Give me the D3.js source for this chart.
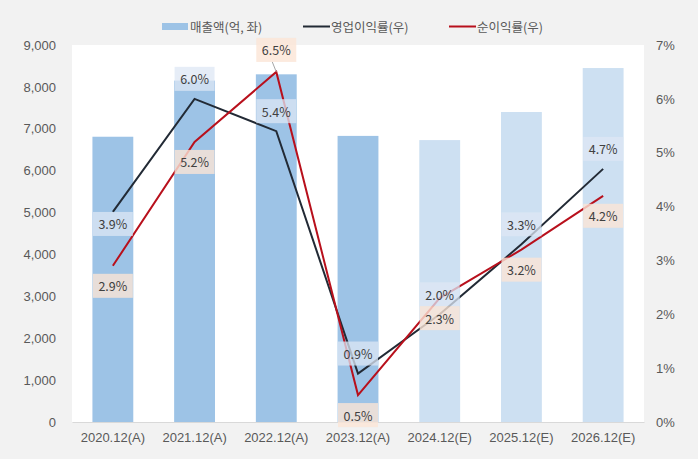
<!DOCTYPE html>
<html>
<head>
<meta charset="utf-8">
<script src="https://cdn.jsdelivr.net/npm/d3@7"></script>
<style>
  html, body { margin: 0; padding: 0; background: #f2f2f2; }
  svg { display: block; font-family: "Noto Sans CJK KR", "Noto Sans", sans-serif; }
</style>
</head>
<body>
<div id="chart"></div>
<script>
const categories = ["2020.12(A)", "2021.12(A)", "2022.12(A)", "2023.12(A)", "2024.12(E)", "2025.12(E)", "2026.12(E)"];
const isEstimate = [false, false, false, false, true, true, true];
const revenue = [6810, 8150, 8300, 6830, 6730, 7400, 8450];
const opMargin = [3.9, 6.0, 5.4, 0.9, 2.0, 3.3, 4.7];
const netMargin = [2.9, 5.2, 6.5, 0.5, 2.3, 3.2, 4.2];
const leftTicks = [0, 1000, 2000, 3000, 4000, 5000, 6000, 7000, 8000, 9000];
const rightTicks = [0, 1, 2, 3, 4, 5, 6, 7];
// label side per point: 1 = above, -1 = below
const opLabelSide = [-1, 1, 1, 1, 1, 1, 1];
const netLabelSide = [-1, -1, 1, -1, -1, -1, -1];

const W = 698, H = 459;
const margin = { top: 45, right: 54, bottom: 37, left: 72 };

const svg = d3.select("#chart").append("svg").attr("width", W).attr("height", H);

svg.append("rect").attr("width", W).attr("height", H).attr("fill", "#f2f2f2");
svg.append("rect")
  .attr("x", margin.left).attr("y", margin.top)
  .attr("width", W - margin.left - margin.right)
  .attr("height", H - margin.top - margin.bottom)
  .attr("fill", "#ffffff");

const x = d3.scaleBand().domain(categories)
  .range([margin.left, W - margin.right]).paddingInner(0.5).paddingOuter(0.25);
const yL = d3.scaleLinear().domain([0, 9000]).range([H - margin.bottom, margin.top]);
const yR = d3.scaleLinear().domain([0, 7]).range([H - margin.bottom, margin.top]);

const textColor = "#595959";
const fmt = d3.format(",");

// left axis
const axL = svg.append("g").attr("transform", `translate(${margin.left},0)`)
  .call(d3.axisLeft(yL).tickValues(leftTicks).tickFormat(fmt).tickSize(0).tickPadding(16));
axL.select(".domain").remove();
axL.selectAll("text").attr("font-size", 13).attr("fill", textColor).style("font-family", "inherit");

// right axis
const axR = svg.append("g").attr("transform", `translate(${W - margin.right},0)`)
  .call(d3.axisRight(yR).tickValues(rightTicks).tickFormat(d => d + "%").tickSize(0).tickPadding(12));
axR.select(".domain").remove();
axR.selectAll("text").attr("font-size", 13).attr("fill", textColor).style("font-family", "inherit");

// bars
svg.append("g").selectAll("rect").data(categories).join("rect")
  .attr("x", d => x(d))
  .attr("y", (d, i) => yL(revenue[i]))
  .attr("width", x.bandwidth())
  .attr("height", (d, i) => yL(0) - yL(revenue[i]))
  .attr("fill", (d, i) => isEstimate[i] ? "#cde0f2" : "#9dc3e6");

// bottom axis
const axB = svg.append("g").attr("transform", `translate(0,${H - margin.bottom})`)
  .call(d3.axisBottom(x).tickSize(0).tickPadding(11));
axB.select(".domain").attr("stroke", "#d9d9d9");
axB.selectAll("text").attr("font-size", 13).attr("fill", textColor).style("font-family", "inherit");

const cx = (d) => x(d) + x.bandwidth() / 2;

function drawLine(values, color) {
  svg.append("path")
    .datum(values)
    .attr("fill", "none")
    .attr("stroke", color)
    .attr("stroke-width", 2)
    .attr("stroke-linejoin", "miter")
    .attr("d", d3.line().x((d, i) => cx(categories[i])).y(d => yR(d)));
}
drawLine(opMargin, "#222a35");
drawLine(netMargin, "#b8101c");

function drawLabels(values, sides, bg, offAbove, offBelow) {
  const g = svg.append("g");
  values.forEach((v, i) => {
    const px = cx(categories[i]);
    const py = yR(v);
    const ly = sides[i] > 0 ? py - offAbove : py + offBelow;
    const t = v.toFixed(1) + "%";
    if (sides[i] > 0 && offAbove > 20) {
      // leader line from label to point
      g.append("line")
        .attr("x1", px - 4).attr("y1", ly + 12)
        .attr("x2", px).attr("y2", py)
        .attr("stroke", "#a6a6a6").attr("stroke-width", 1);
    }
    g.append("rect")
      .attr("x", px - 20).attr("y", ly - 12)
      .attr("width", 40).attr("height", 24)
      .attr("fill", bg);
    g.append("text")
      .attr("x", px).attr("y", ly)
      .attr("text-anchor", "middle").attr("dominant-baseline", "central")
      .attr("font-size", 12.5).attr("fill", "#404040")
      .text(t);
  });
}
drawLabels(opMargin, opLabelSide, "rgba(222,231,244,0.75)", 20, 12);
drawLabels(netMargin, netLabelSide, "rgba(251,229,214,0.8)", 22, 20);

// legend
const legend = svg.append("g");
const legendItems = [
  { label: "매출액(억, 좌)", type: "bar", color: "#9dc3e6", x: 162 },
  { label: "영업이익률(우)", type: "line", color: "#222a35", x: 303 },
  { label: "순이익률(우)", type: "line", color: "#b8101c", x: 449 }
];
legendItems.forEach(it => {
  if (it.type === "bar") {
    legend.append("rect").attr("x", it.x).attr("y", 23).attr("width", 26).attr("height", 7).attr("fill", it.color);
  } else {
    legend.append("line").attr("x1", it.x).attr("x2", it.x + 27).attr("y1", 26.5).attr("y2", 26.5)
      .attr("stroke", it.color).attr("stroke-width", 2);
  }
  legend.append("text").attr("x", it.x + 28).attr("y", 26.5)
    .attr("dominant-baseline", "central").attr("font-size", 12.5).attr("fill", textColor)
    .text(it.label);
});
</script>
</body>
</html>
